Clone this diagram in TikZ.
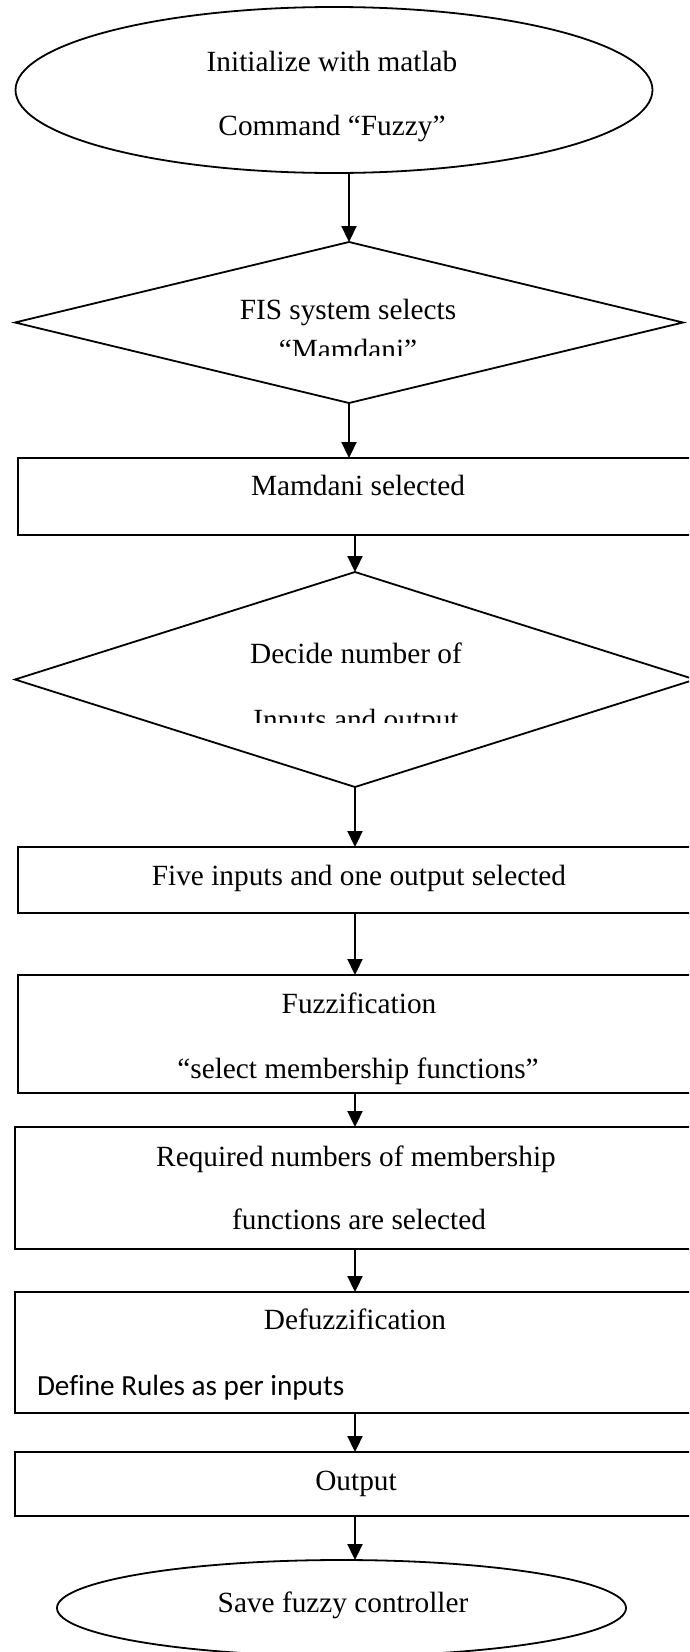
\documentclass[tikz,border=0pt]{standalone}
\usepackage{fontspec}
\setmainfont[Ligatures=NoCommon]{Liberation Serif}
\newfontfamily\calfont[Ligatures=NoCommon]{Carlito}
\usetikzlibrary{shapes.geometric,arrows.meta}
\begin{document}
\begin{tikzpicture}[x=1pt,y=-1pt,
  shp/.style={draw=black,line width=1.8pt,inner sep=0pt,outer sep=0pt},
  ell/.style={shp,ellipse},
  dia/.style={shp,diamond},
  boxn/.style={shp,rectangle,minimum width=674pt},
  txt/.style={inner sep=0pt,outer sep=0pt,anchor=base,font=\fontsize{29.3}{35}\selectfont},
  arr/.style={line width=2.2pt,-{Triangle[length=16pt,width=15pt]}}]
\useasboundingbox (0,0) rectangle (689,1652);
\clip (0,0) rectangle (689,1652);

% shapes
\node[ell,minimum width=637pt,minimum height=166pt] (e1) at (334,90) {};
\node[dia,minimum width=668pt,minimum height=161pt] (d1) at (349,322.5) {};
\node[boxn,minimum height=77pt] (b1) at (355,496.5) {};
\node[dia,minimum width=680pt,minimum height=215pt] (d2) at (355,679.5) {};
\node[boxn,minimum height=66pt] (b2) at (355,880) {};
\node[boxn,minimum height=118pt] (b3) at (355,1034) {};
\node[boxn,minimum width=680pt,minimum height=122pt] (b4) at (355,1188) {};
\node[boxn,minimum width=680pt,minimum height=121pt] (b5) at (355,1352.5) {};
\node[boxn,minimum width=680pt,minimum height=64pt] (b6) at (355,1484) {};
\node[ell,minimum width=569pt,minimum height=96pt] (e2) at (341.5,1608) {};

% texts
\node[txt] (t1a) at (332,71) {Initialize with matlab};
\node[txt] (t1b) at (332,135) {Command “Fuzzy”};
\node[txt] (t2a) at (348,319) {FIS system selects};
\begin{scope}
  \clip (0,0) rectangle (689,355);
  \node[txt] (t2b) at (348,359.5) {“Mamdani”};
\end{scope}
\node[txt] (t3) at (358,495) {Mamdani selected};
\node[txt] (t4a) at (356,663) {Decide number of};
\begin{scope}
  \clip (0,0) rectangle (689,722);
  \node[txt] (t4b) at (356,729.5) {Inputs and output};
\end{scope}
\node[txt] (t5) at (359,885) {Five inputs and one output selected};
\node[txt] (t6a) at (359,1013) {Fuzzification};
\node[txt] (t6b) at (358,1078) {“select membership functions”};
\node[txt] (t7a) at (356,1166) {Required numbers of membership};
\node[txt] (t7b) at (359,1229) {functions are selected};
\node[txt] (t8a) at (355,1329) {Defuzzification};
\node[txt,anchor=base west,font=\fontsize{29.2}{35}\calfont] (t8b) at (37,1395) {Define Rules as per inputs};
\node[txt] (t9) at (356,1490) {Output};
\node[txt] (t10) at (343,1612) {Save fuzzy controller};

% connectors
\draw[arr] (e1.south -| d1.north) -- (d1.north);
\draw[arr] (d1.south) -- (d1.south |- b1.north);
\draw[arr] (b1.south) -- (d2.north);
\draw[arr] (d2.south) -- (b2.north);
\draw[arr] (b2.south) -- (b3.north);
\draw[arr] (b3.south) -- (b4.north);
\draw[arr] (b4.south) -- (b5.north);
\draw[arr] (b5.south) -- (b6.north);
\draw[arr] (b6.south) -- (b6.south |- e2.north);
\end{tikzpicture}
\end{document}
